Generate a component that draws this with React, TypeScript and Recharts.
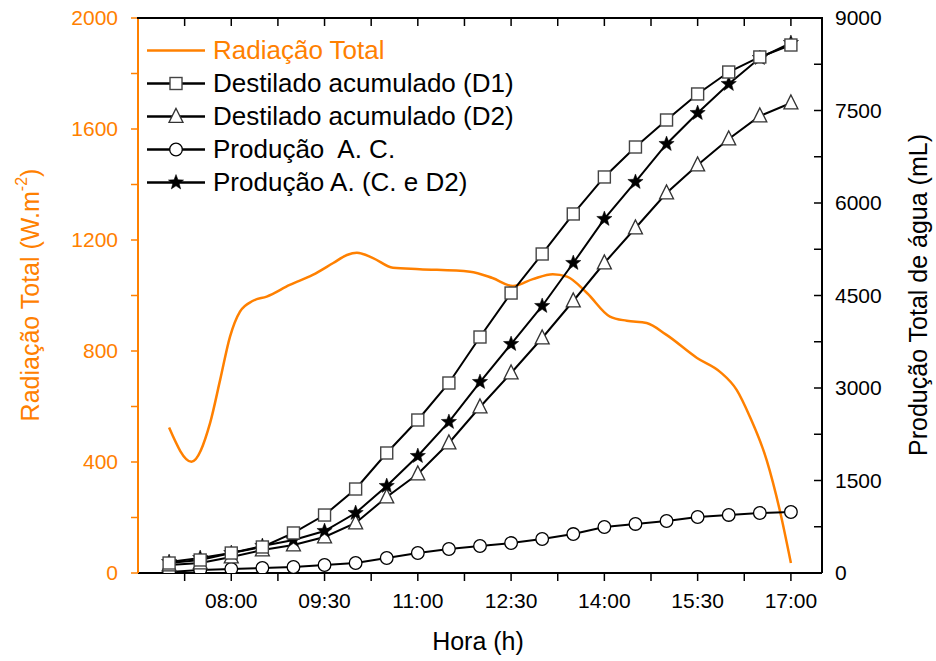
import { LineChart, Line, XAxis, YAxis } from "recharts";

if (typeof document !== "undefined") document.body.style.margin = "0";

const ORANGE = "#FF8000";
const FONT = "'Liberation Sans', Arial, sans-serif";

// horas de medição (h decimal)
const hora = [7, 7.5, 8, 8.5, 9, 9.5, 10, 10.5, 11, 11.5, 12, 12.5, 13, 13.5, 14, 14.5, 15, 15.5, 16, 16.5, 17];
const destiladoD1 = [162, 211, 324, 422, 649, 940, 1362, 1946, 2481, 3081, 3827, 4540, 5173, 5822, 6422, 6908, 7346, 7768, 8124, 8368, 8562];
const destiladoD2 = [130, 162, 259, 373, 454, 584, 811, 1232, 1605, 2108, 2692, 3243, 3811, 4411, 5027, 5595, 6162, 6616, 7038, 7411, 7622];
const producaoAC = [16, 49, 65, 81, 97, 130, 162, 243, 324, 389, 438, 486, 551, 632, 746, 795, 843, 908, 941, 973, 989];
const producaoACD2 = [178, 243, 324, 438, 535, 681, 973, 1411, 1897, 2449, 3097, 3713, 4330, 5027, 5741, 6341, 6957, 7459, 7930, 8351, 8595];

// radiação total (W/m2)
const radHora = [7.0, 7.36, 7.66, 7.82, 7.98, 8.14, 8.35, 8.57, 8.94, 9.31, 9.64, 9.86, 10.02, 10.28, 10.6, 11.03, 11.84, 12.2, 12.53, 12.85, 13.17, 13.4, 13.72, 14.09, 14.36, 14.68, 15.0, 15.49, 15.86, 16.13, 16.34, 16.61, 16.82, 17.0];
const radTotal = [524, 401, 541, 695, 852, 942, 981, 996, 1038, 1074, 1117, 1146, 1154, 1135, 1100, 1095, 1086, 1063, 1034, 1059, 1077, 1068, 1009, 924, 909, 901, 858, 775, 725, 659, 563, 407, 227, 36];

const xDomain = [6.5, 17.5];
const xTicks = [7.25, 8, 8.75, 9.5, 10.25, 11, 11.75, 12.5, 13.25, 14, 14.75, 15.5, 16.25, 17];
const leftTicks = [0, 200, 400, 600, 800, 1000, 1200, 1400, 1600, 1800, 2000];
const rightTicks = [0, 750, 1500, 2250, 3000, 3750, 4500, 5250, 6000, 6750, 7500, 8250, 9000];

// plot box (left/right axis widths, top margin, x axis height)
const W = 936;
const H = 661;
const LEFT_W = 138;
const RIGHT_W = 114;
const TOP = 18;
const X_H = 88;

const prodData = hora.map((h, i) => ({
  hora: h,
  d1: destiladoD1[i],
  d2: destiladoD2[i],
  ac: producaoAC[i],
  acd2: producaoACD2[i],
}));
const radData = radHora.map((h, i) => ({ hora: h, rad: radTotal[i] }));

const fmtHora = (v: number) => {
  if (Math.abs(((v - 8) / 1.5) - Math.round((v - 8) / 1.5)) > 1e-6) return "";
  const hh = Math.floor(v);
  const mm = Math.round((v - hh) * 60);
  return `${String(hh).padStart(2, "0")}:${String(mm).padStart(2, "0")}`;
};

const Square = ({ cx, cy, s = 12 }: any) => (
  <rect x={cx - s / 2} y={cy - s / 2} width={s} height={s} fill="#fff" stroke="#444" strokeWidth={1.4} />
);
const Triangle = ({ cx, cy, s = 14 }: any) => (
  <polygon
    points={`${cx},${cy - s * 0.58} ${cx - s / 2},${cy + s * 0.42} ${cx + s / 2},${cy + s * 0.42}`}
    fill="#fff"
    stroke="#333"
    strokeWidth={1.3}
  />
);
const Circle = ({ cx, cy, r = 6.3 }: any) => (
  <circle cx={cx} cy={cy} r={r} fill="#fff" stroke="#000" strokeWidth={1.3} />
);
const Star = ({ cx, cy, R = 8 }: any) => {
  const pts: string[] = [];
  for (let k = 0; k < 10; k++) {
    const rad = k % 2 === 0 ? R : R * 0.42;
    const a = -Math.PI / 2 + (k * Math.PI) / 5;
    pts.push(`${cx + rad * Math.cos(a)},${cy + rad * Math.sin(a)}`);
  }
  return <polygon points={pts.join(" ")} fill="#000" stroke="#000" strokeWidth={0.5} />;
};

const dotOf = (Shape: any) => (p: any) => <Shape key={`${p.dataKey}-${p.index}`} cx={p.cx} cy={p.cy} />;

const legendItems = [
  { label: "Radiação Total", color: ORANGE, shape: null },
  { label: "Destilado acumulado (D1)", color: "#000", shape: Square },
  { label: "Destilado acumulado (D2)", color: "#000", shape: Triangle },
  { label: "Produção  A. C.", color: "#000", shape: Circle },
  { label: "Produção A. (C. e D2)", color: "#000", shape: Star },
];

const tickStyle = { fontSize: 21, fontFamily: FONT, fill: "#000" };

// top frame of the box with inward ticks
function TopFrame() {
  const plotW = W - LEFT_W - RIGHT_W;
  const sx = (v: number) => LEFT_W + ((v - xDomain[0]) / (xDomain[1] - xDomain[0])) * plotW;
  return (
    <svg width={W} height={H} style={{ position: "absolute", left: 0, top: 0, pointerEvents: "none" }}>
      <line x1={LEFT_W - 1} x2={W - RIGHT_W + 1} y1={TOP} y2={TOP} stroke="#000" strokeWidth={2} />
      {xTicks.map((t) => (
        <line key={t} x1={sx(t)} x2={sx(t)} y1={TOP} y2={TOP + 8} stroke="#000" strokeWidth={1.5} />
      ))}
    </svg>
  );
}

export default function App() {
  return (
    <div style={{ position: "relative", width: W, height: H, background: "#fff" }}>
      <LineChart width={W} height={H} margin={{ top: TOP, right: 0, bottom: 0, left: 0 }}>
        <XAxis
          dataKey="hora"
          type="number"
          domain={xDomain}
          allowDataOverflow
          ticks={xTicks}
          interval={0}
          tickFormatter={fmtHora}
          height={X_H}
          tickSize={8}
          tickMargin={12}
          tick={tickStyle}
          axisLine={{ stroke: "#000", strokeWidth: 2 }}
          tickLine={{ stroke: "#000", strokeWidth: 1.5 }}
          label={() => (
            <text x={478} y={641} textAnchor="middle" dominantBaseline="central" fontSize={25} fontFamily={FONT} fill="#000">
              Hora (h)
            </text>
          )}
        />
        <YAxis
          yAxisId="left"
          domain={[0, 2000]}
          allowDataOverflow
          ticks={leftTicks}
          interval={0}
          tickFormatter={(v: number) => (v % 400 === 0 ? String(v) : "")}
          width={LEFT_W}
          tickSize={7}
          tickMargin={13}
          tick={{ ...tickStyle, fill: ORANGE }}
          axisLine={{ stroke: ORANGE, strokeWidth: 2 }}
          tickLine={{ stroke: ORANGE, strokeWidth: 1.5 }}
          label={() => (
            <text
              x={0}
              y={0}
              transform="translate(30,295) rotate(-90)"
              textAnchor="middle"
              dominantBaseline="central"
              fontSize={25}
              fontFamily={FONT}
              fill={ORANGE}
            >
              Radiação Total (W.m<tspan baselineShift="super" fontSize={16}>-2</tspan>)
            </text>
          )}
        />
        <YAxis
          yAxisId="right"
          orientation="right"
          domain={[0, 9000]}
          allowDataOverflow
          ticks={rightTicks}
          interval={0}
          tickFormatter={(v: number) => (v % 1500 === 0 ? String(v) : "")}
          width={RIGHT_W}
          tickSize={-8}
          tickMargin={21}
          tick={tickStyle}
          axisLine={{ stroke: "#000", strokeWidth: 2 }}
          tickLine={{ stroke: "#000", strokeWidth: 1.5 }}
          label={() => (
            <text
              x={0}
              y={0}
              transform="translate(918,295) rotate(-90)"
              textAnchor="middle"
              dominantBaseline="central"
              fontSize={25}
              fontFamily={FONT}
              fill="#000"
            >
              Produção Total de água (mL)
            </text>
          )}
        />
        <Line
          yAxisId="left"
          data={radData}
          dataKey="rad"
          type="monotone"
          stroke={ORANGE}
          strokeWidth={2.5}
          dot={false}
          isAnimationActive={false}
        />
        <Line yAxisId="right" data={prodData} dataKey="ac" type="linear" stroke="#000" strokeWidth={2} dot={dotOf(Circle)} isAnimationActive={false} />
        <Line yAxisId="right" data={prodData} dataKey="d2" type="linear" stroke="#000" strokeWidth={2} dot={dotOf(Triangle)} isAnimationActive={false} />
        <Line yAxisId="right" data={prodData} dataKey="acd2" type="linear" stroke="#000" strokeWidth={2} dot={dotOf(Star)} isAnimationActive={false} />
        <Line yAxisId="right" data={prodData} dataKey="d1" type="linear" stroke="#000" strokeWidth={2} dot={dotOf(Square)} isAnimationActive={false} />
      </LineChart>
      <TopFrame />
      <div style={{ position: "absolute", left: 145, top: 34, fontFamily: FONT, fontSize: 26, lineHeight: "33px" }}>
        {legendItems.map((it) => {
          const Shape = it.shape;
          return (
            <div key={it.label} style={{ display: "flex", alignItems: "center", height: 33 }}>
              <svg width={62} height={33} style={{ flex: "none" }}>
                <line x1={2} x2={60} y1={16.5} y2={16.5} stroke={it.color} strokeWidth={2.5} />
                {Shape ? <Shape cx={31} cy={16.5} /> : null}
              </svg>
              <span style={{ color: it.color, marginLeft: 6, whiteSpace: "pre" }}>{it.label}</span>
            </div>
          );
        })}
      </div>
    </div>
  );
}
